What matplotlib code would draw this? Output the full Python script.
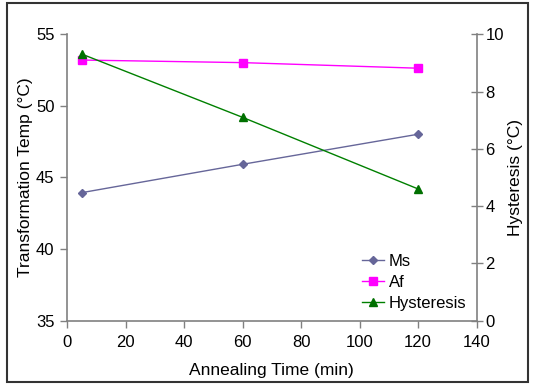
import matplotlib.pyplot as plt
from matplotlib.patches import Rectangle
from matplotlib.lines import Line2D

plt.rcParams['font.family'] = ['Liberation Sans', 'DejaVu Sans']

time = [5, 60, 120]
ms = [43.94, 45.92, 48.02]
af = [53.2, 53.02, 52.63]
hysteresis = [9.31, 7.10, 4.60]

fig = plt.figure(figsize=(5.34, 3.85), dpi=100)
ax = fig.add_axes([0.1255, 0.167, 0.767, 0.744])
ax2 = ax.twinx()

gray = '#808080'
ax.plot(time, ms, color='#666699', marker='D', markersize=4, lw=1, label='Ms')
ax.plot(time, af, color='#FF00FF', marker='s', markersize=6, lw=1, label='Af')
ax2.plot(time, hysteresis, color='#008000', marker='^', markersize=6, lw=1,
         markerfacecolor='#007000', markeredgecolor='#007000', label='Hysteresis')

ax.set_xlim(0, 140)
ax.set_ylim(35, 55)
ax2.set_ylim(0, 10)
ax.set_xticks(range(0, 141, 20))
ax.set_yticks(range(35, 56, 5))
ax2.set_yticks(range(0, 11, 2))

for a in (ax, ax2):
    a.spines['top'].set_visible(False)
    for s in a.spines.values():
        s.set_color(gray)
        s.set_linewidth(1.2)
ax.spines['right'].set_visible(False)
ax2.spines['left'].set_visible(False)
ax2.spines['bottom'].set_visible(False)

ax.tick_params(axis='both', direction='out', length=5, color=gray, labelsize=12, width=1)
ax.tick_params(axis='x', pad=5)
ax.tick_params(axis='y', pad=4)
ax2.tick_params(axis='y', direction='inout', length=9, color=gray, labelsize=12, width=1, pad=2)

ax.set_xlabel('Annealing Time (min)', fontsize=12.5, labelpad=10)
ax.set_ylabel('Transformation Temp (°C)', fontsize=12.5, labelpad=2)
ax2.set_ylabel('Hysteresis (°C)', fontsize=12.5, labelpad=3)

handles = [Line2D([], [], color='#666699', marker='D', markersize=4, lw=1),
           Line2D([], [], color='#FF00FF', marker='s', markersize=6, lw=1),
           Line2D([], [], color='#008000', marker='^', markersize=6, lw=1,
                  markerfacecolor='#007000', markeredgecolor='#007000')]
ax2.legend(handles, ['Ms', 'Af', 'Hysteresis'], loc='lower right', frameon=False,
           fontsize=12, handlelength=1.3, handletextpad=0.3, labelspacing=0.35,
           borderaxespad=0.2, bbox_to_anchor=(1.0, 0.0))

fig.patches.append(Rectangle((0.013, 0.008), 0.975, 0.985, transform=fig.transFigure,
                             fill=False, edgecolor='#333333', lw=1.5))

fig.savefig('out.png', dpi=100)
